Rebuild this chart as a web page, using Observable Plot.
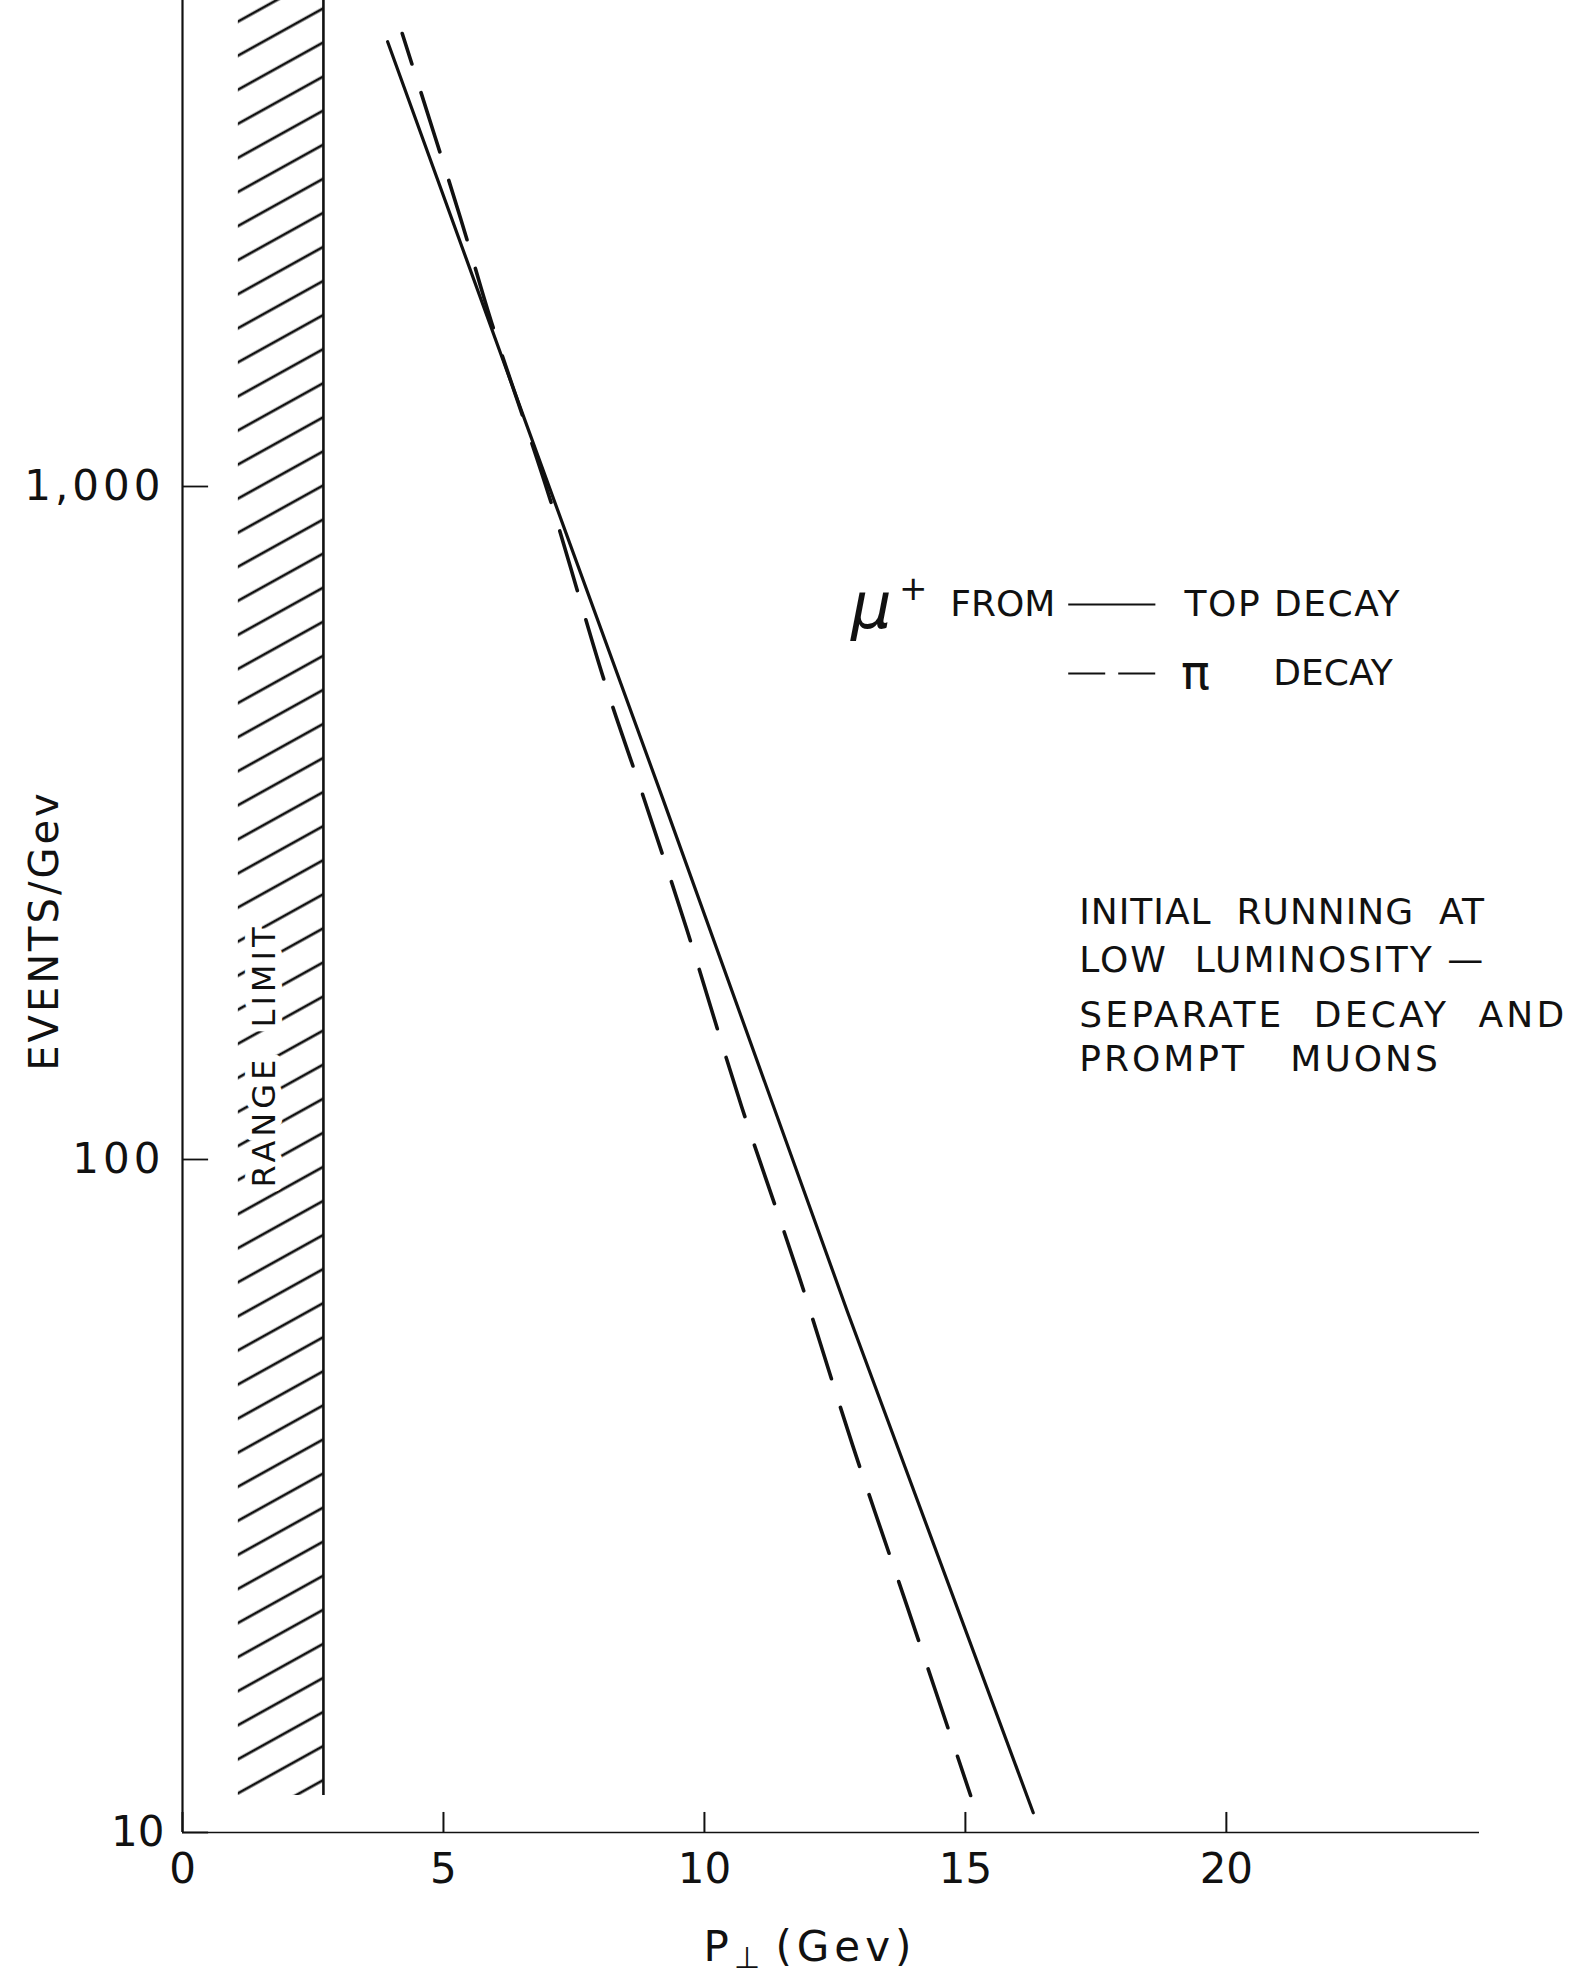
<!DOCTYPE html>
<html>
<head>
<meta charset="utf-8">
<script src="https://cdn.jsdelivr.net/npm/d3@7"></script>
<script src="https://cdn.jsdelivr.net/npm/@observablehq/plot@0.6"></script>
<style>
  html, body { margin: 0; padding: 0; background: #fff; }
  #chart svg text { white-space: pre; }
</style>
</head>
<body>
<div id="chart"></div>
<script>
// ---- values ----
const topDecayP      = [3.93, 6.09, 9.20, 12.74, 16.30];
const topDecayEvents = [4580, 1580, 344, 59.4, 10.7];
const piDecayP       = [4.21, 5.33, 5.92, 7.03, 8.10, 8.83, 9.66, 10.71, 11.80, 12.84, 13.89, 15.10];
const piDecayEvents  = [4710, 2500, 1754, 964, 509, 346, 220, 120, 67.5, 37.6, 21.6, 11.35];
const rangeLimitP    = [1.07, 2.70];
const rangeLimitEventsMin = 11.35;
const xTickValues = [0, 5, 10, 15, 20];
const xTickLabels = ["0", "5", "10", "15", "20"];
const yTickValues = [10, 100, 1000];
const yTickLabels = ["10", "100", "1,000"];
const noteLines = ["INITIAL  RUNNING  AT", "LOW  LUMINOSITY —", "SEPARATE  DECAY  AND", "PROMPT   MUONS"];

// ---- chart ----
const X_MAX = 24.85, Y_MAX = 5274;
const ink = "#111";
const font = "DejaVu Sans";
const topData = topDecayP.map((p, i) => ({p, e: topDecayEvents[i]}));
const piData = piDecayP.map((p, i) => ({p, e: piDecayEvents[i]}));
const noteY = [232.8, 197.6, 163.7, 140.8];

const chart = Plot.plot({
  width: 1591, height: 1986,
  marginLeft: 182, marginRight: 112, marginTop: 0, marginBottom: 154,
  x: {domain: [0, X_MAX], axis: null},
  y: {type: "log", domain: [10, Y_MAX], axis: null},
  style: {fontFamily: font, background: "#fff", color: ink},
  marks: [
    // hatched "range limit" band
    Plot.rect([0], {x1: rangeLimitP[0], x2: rangeLimitP[1], y1: rangeLimitEventsMin, y2: Y_MAX, fill: "url(#hatch)"}),
    Plot.text(["RANGE  LIMIT"], {x: 1.57, y: 142.7, rotate: -90, fontSize: 32, fill: ink, stroke: "#fff", strokeWidth: 14, paintOrder: "stroke"}),
    Plot.ruleX([rangeLimitP[1]], {y1: rangeLimitEventsMin, y2: Y_MAX, stroke: ink, strokeWidth: 2.6}),
    // axes
    Plot.ruleX([0], {stroke: ink, strokeWidth: 2.2}),
    Plot.ruleY([10], {stroke: ink, strokeWidth: 1.6}),
    Plot.ruleY(yTickValues, {x1: 0, x2: 0.5, stroke: ink, strokeWidth: 1.8}),
    Plot.ruleX(xTickValues, {y1: 10, y2: 10.71, stroke: ink, strokeWidth: 2}),
    Plot.text(yTickValues, {x: 0, y: d => d, text: (d, i) => yTickLabels[i], textAnchor: "end", dx: -18, fontSize: 42, fill: ink}),
    Plot.text(xTickValues, {x: d => d, y: 10, text: (d, i) => xTickLabels[i], dy: 37, fontSize: 42, fill: ink}),
    Plot.text(["EVENTS/Gev"], {x: -2.625, y: 218.9, rotate: -90, fontSize: 40, fill: ink}),
    Plot.text(["P"], {x: 9.98, y: 6.75, textAnchor: "start", fontSize: 42, fill: ink}),
    Plot.text(["⊥"], {x: 10.81, y: 6.5, fontSize: 30, fill: ink}),
    Plot.text(["(Gev)"], {x: 11.36, y: 6.75, textAnchor: "start", fontSize: 42, fill: ink}),
    // curves
    Plot.line(topData, {x: "p", y: "e", stroke: ink, strokeWidth: 3.2}),
    Plot.line(piData, {x: "p", y: "e", stroke: ink, strokeWidth: 3.6, strokeDasharray: "62,30", strokeDashoffset: 30, curve: "catmull-rom"}),
    // legend
    Plot.text(["μ"], {x: 13.2, y: 660, fontSize: 64, fontStyle: "italic", fill: ink}),
    Plot.text(["+"], {x: 14.0, y: 705, fontSize: 34, fill: ink}),
    Plot.text(["FROM"], {x: 14.71, y: 668, textAnchor: "start", fontSize: 36, fill: ink}),
    Plot.link([0], {x1: 16.97, x2: 18.64, y1: 668, y2: 668, stroke: ink, strokeWidth: 2}),
    Plot.text(["TOP DECAY"], {x: 19.20, y: 668, textAnchor: "start", fontSize: 36, fill: ink}),
    Plot.link([0], {x1: 16.97, x2: 18.64, y1: 527.6, y2: 527.6, stroke: ink, strokeWidth: 2, strokeDasharray: "37,13"}),
    Plot.text(["π"], {x: 19.41, y: 527.6, fontSize: 48, fill: ink}),
    Plot.text(["DECAY"], {x: 20.90, y: 527.6, textAnchor: "start", fontSize: 36, fill: ink}),
    // note
    ...noteLines.map((t, i) => Plot.text([t], {x: 17.18, y: noteY[i], textAnchor: "start", fontSize: 36, fill: ink}))
  ]
});

// hatch pattern definition
const defs = d3.select(chart).insert("defs", ":first-child");
const pat = defs.append("pattern")
  .attr("id", "hatch")
  .attr("patternUnits", "userSpaceOnUse")
  .attr("width", 40).attr("height", 29.8)
  .attr("patternTransform", "rotate(-29)");
pat.append("line").attr("x1", 0).attr("y1", 15).attr("x2", 40).attr("y2", 15)
  .attr("stroke", ink).attr("stroke-width", 2.6);

// letter spacing to match the stencil lettering
const spacing = {
  "RANGE  LIMIT": 4, "1,000": 4, "100": 4, "EVENTS/Gev": 3, "(Gev)": 5, "TOP DECAY": 1.5,
  "INITIAL  RUNNING  AT": 1, "LOW  LUMINOSITY —": 2, "SEPARATE  DECAY  AND": 3.2, "PROMPT   MUONS": 3
};
d3.select(chart).selectAll("text").each(function() {
  const s = spacing[this.textContent];
  if (s) this.setAttribute("letter-spacing", s);
});

document.getElementById("chart").appendChild(chart);
</script>
</body>
</html>
